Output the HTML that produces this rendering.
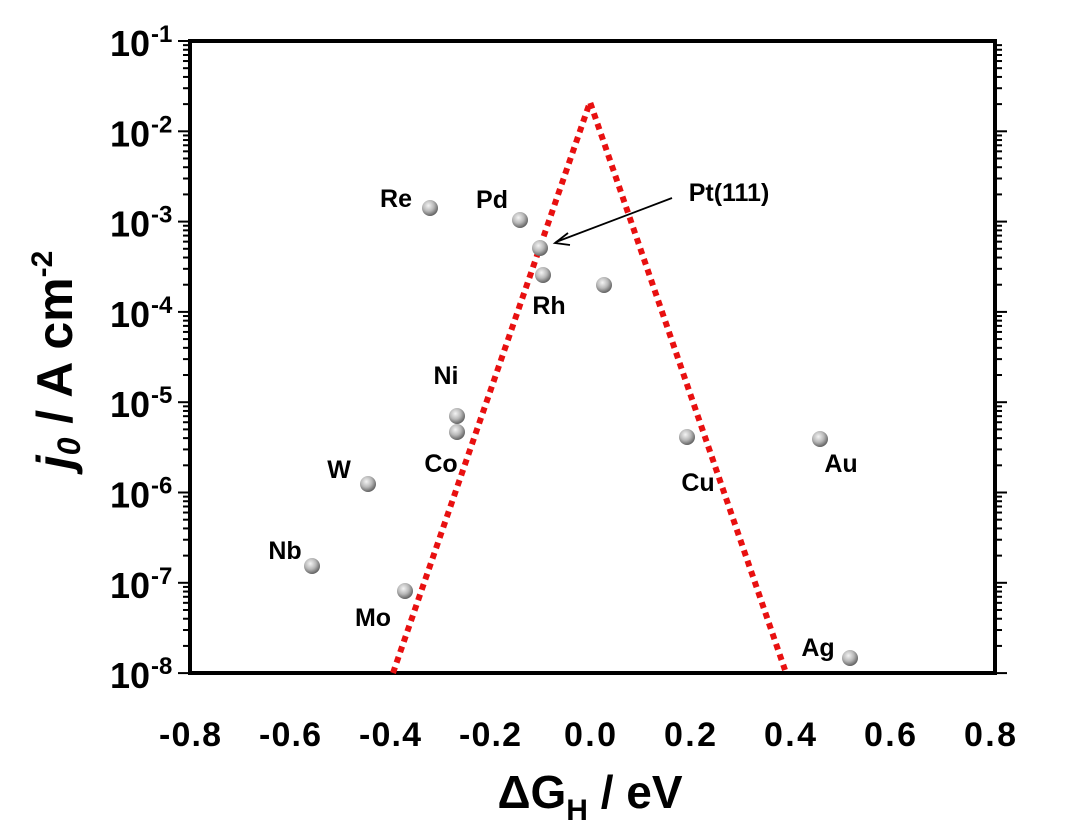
<!DOCTYPE html>
<html><head><meta charset="utf-8"><style>
html,body{margin:0;padding:0;background:#fff;}
svg{display:block;font-family:"Liberation Sans",sans-serif;font-weight:bold;}
</style></head><body>
<svg id="s" width="1080" height="836" viewBox="0 0 1080 836">
<defs>
<radialGradient id="g" cx="0.4" cy="0.35" r="0.7">
<stop offset="0" stop-color="#f4f4f4"/><stop offset="0.5" stop-color="#b8b8b8"/><stop offset="1" stop-color="#555"/>
</radialGradient>
</defs>
<g id="ticks" stroke="#000"></g>
<rect x="190" y="41" width="805" height="632" fill="none" stroke="#000" stroke-width="4"/>
<g id="ylab" font-size="36"></g>
<g font-size="34" text-anchor="middle">
<text x="190" y="746" textLength="62">-0.8</text><text x="290" y="746" textLength="62">-0.6</text><text x="390" y="746" textLength="62">-0.4</text>
<text x="490" y="746" textLength="62">-0.2</text><text x="590" y="746" textLength="52">0.0</text><text x="690" y="746" textLength="52">0.2</text>
<text x="790" y="746" textLength="52">0.4</text><text x="890" y="746" textLength="52">0.6</text><text x="990" y="746" textLength="52">0.8</text>
</g>
<text x="590" y="808" font-size="46" text-anchor="middle">ΔG<tspan font-size="30" dy="12">H</tspan><tspan dy="-12"> / eV</tspan></text>
<text transform="translate(72,360) rotate(-90)" font-size="50" text-anchor="middle"><tspan font-style="italic">j</tspan><tspan font-style="italic" font-size="32" dy="8">0</tspan><tspan dy="-8"> / A cm</tspan><tspan font-size="30" dy="-20">-2</tspan></text>
<polyline points="393,673 590,102 785,670" fill="none" stroke="#e81010" stroke-width="6" stroke-dasharray="6,5"/>
<line x1="672" y1="198" x2="556" y2="242" stroke="#000" stroke-width="1.8"/>
<polyline points="568,233 555,243 570,245" fill="none" stroke="#000" stroke-width="1.8"/>
<g fill="url(#g)">
<circle cx="430" cy="208" r="8"/><circle cx="520" cy="220" r="8"/><circle cx="540" cy="248" r="8"/>
<circle cx="543" cy="275" r="8"/><circle cx="604" cy="285" r="8"/><circle cx="457" cy="416" r="8"/>
<circle cx="457" cy="432" r="8"/><circle cx="368" cy="484" r="8"/><circle cx="312" cy="566" r="8"/>
<circle cx="405" cy="591" r="8"/><circle cx="687" cy="437" r="8"/><circle cx="820" cy="439" r="8"/>
<circle cx="850" cy="658" r="8"/>
</g>
<g font-size="25" text-anchor="middle">
<text x="396" y="207">Re</text><text x="492" y="208">Pd</text><text x="729" y="201">Pt(111)</text>
<text x="549" y="314">Rh</text><text x="446" y="384">Ni</text><text x="441" y="472">Co</text>
<text x="339" y="478">W</text><text x="285" y="559">Nb</text><text x="373" y="626">Mo</text>
<text x="698" y="491">Cu</text><text x="841" y="472">Au</text><text x="818" y="656">Ag</text>
</g>
</svg>
<script>
var tg=document.getElementById('ticks'),yl=document.getElementById('ylab'),h='',l='';
var y0=41,dec=90.3;
for(var d=0;d<7;d++){for(var k=1;k<10;k++){var y=y0+dec*(d+1)-dec*Math.log10(k);var L=(k==1)?12:7;
h+='<line x1="'+(190-L)+'" x2="190" y1="'+y+'" y2="'+y+'" stroke-width="2"/>';
h+='<line x1="995" x2="'+(995+L)+'" y1="'+y+'" y2="'+y+'" stroke-width="2"/>';}}
h+='<line x1="178" x2="190" y1="41" y2="41" stroke-width="2"/>';
tg.innerHTML=h;
for(var e=1;e<=8;e++){var y=y0+dec*(e-1);
l+='<text x="110" y="'+(y+15)+'" textLength="40">10</text><text x="151" y="'+(y+1)+'" font-size="24">-'+e+'</text>';}
yl.innerHTML=l;
</script>
</body></html>
